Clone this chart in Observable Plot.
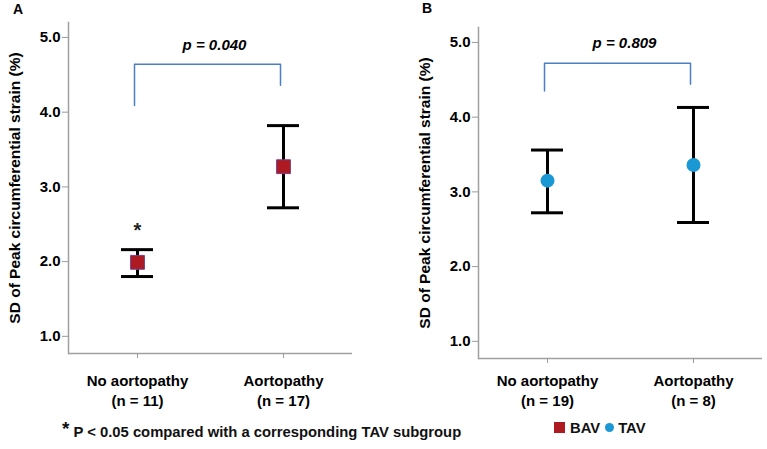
<!DOCTYPE html>
<html>
<head>
<meta charset="utf-8">
<script src="https://cdn.jsdelivr.net/npm/d3@7"></script>
<script src="https://cdn.jsdelivr.net/npm/@observablehq/plot@0.6"></script>
<style>
  html, body { margin: 0; padding: 0; background: #fff; }
  #root { position: relative; width: 767px; height: 449px; overflow: hidden; background: #fff;
          font-family: "Liberation Sans", Arial, sans-serif; color: #000; }
  .panel { position: absolute; top: 0; }
  .letter { position: absolute; font-weight: bold; font-size: 14px; }
  .note { position: absolute; font-size: 14.8px; font-weight: bold; white-space: nowrap; color: #111; }
</style>
</head>
<body>
<div id="root">
  <div id="panelA" class="panel" style="left:0px;"></div>
  <div id="panelB" class="panel" style="left:380px;"></div>
  <div class="letter" style="left:13px; top:1px;">A</div>
  <div class="letter" style="left:422px; top:0px;">B</div>
  <div class="note" style="left:62px; top:420px;"><span style="font-size:19px; position:relative; top:-2px;">*</span> P &lt; 0.05 compared with a corresponding TAV subgroup</div>
  <div id="legend" class="note" style="left:553px; top:420px;"></div>
</div>
<script>
// ---- data ----
const groups = ["No aortopathy", "Aortopathy"];
const yTicks = [1, 2, 3, 4, 5];
const yTitle = "SD of Peak circumferential strain (%)";

const bavN = [11, 17];
const bavMean = [1.99, 3.27];
const bavLow = [1.80, 2.72];
const bavHigh = [2.16, 3.82];

const tavN = [19, 8];
const tavMean = [3.15, 3.36];
const tavLow = [2.72, 2.59];
const tavHigh = [3.56, 4.13];

const bavBracket = [4.09, 4.64, 4.64, 4.36];
const tavBracket = [4.35, 4.72, 4.72, 4.44];
const bavP = "p = 0.040", bavPy = 4.90;
const tavP = "p = 0.809", tavPy = 4.99;
const starLabel = "*", starY = 2.41;

const legendNames = ["BAV", "TAV"];
const bavColor = "#ad1a22";
const tavColor = "#1a98d4";

function panel({n, mean, low, high, bracket, pText, pY, symbol, r, color, stroke,
                width, marginLeft, marginRight, marginTop, marginBottom, labelDy, star}) {
  const idx = d3.range(groups.length);
  const bracketPts = [0, 0, 1, 1].map((g, k) => ({g: groups[g], y: bracket[k]}));
  const marks = [
    Plot.axisY({ticks: yTicks, tickFormat: d => d.toFixed(1), tickSize: 6, tickPadding: 2,
                stroke: "#9a9a9a", fill: "#000", fontSize: 15, fontWeight: "bold", label: null}),
    Plot.text([yTitle], {frameAnchor: "left", textAnchor: "middle", rotate: -90, dx: -53, text: d => d,
                         fontSize: 15.5, fontWeight: "bold", fill: "#000"}),
    Plot.frame({anchor: "left", stroke: "#a0a0a0", strokeWidth: 1.5}),
    Plot.ruleY([0.77], {stroke: "#a0a0a0", strokeWidth: 1.5}),
    Plot.axisX({tickSize: 5, tickFormat: () => "", stroke: "#9a9a9a", label: null}),
    Plot.text(idx, {x: i => groups[i], text: i => `${groups[i]}\n(n = ${n[i]})`,
                    frameAnchor: "bottom", lineAnchor: "top", dy: labelDy, lineHeight: 1.35,
                    fontSize: 15, fontWeight: "bold", fill: "#000"}),
    Plot.line(bracketPts, {x: "g", y: "y", stroke: "#4a7fc3", strokeWidth: 1.5, dx: -3, curve: "linear"}),
    Plot.text([pText], {y: pY, text: d => d, dx: 4, fontSize: 15, fontWeight: "bold",
                        fontStyle: "italic", fill: "#000"}),
    Plot.ruleX(idx, {x: i => groups[i], y1: i => low[i], y2: i => high[i], stroke: "#000", strokeWidth: 3}),
    Plot.tickY(idx, {x: i => groups[i], y: i => low[i], stroke: "#000", strokeWidth: 3}),
    Plot.tickY(idx, {x: i => groups[i], y: i => high[i], stroke: "#000", strokeWidth: 3}),
    Plot.dot(idx, {x: i => groups[i], y: i => mean[i], symbol, r, fill: color,
                   stroke: stroke, strokeWidth: stroke ? 1 : 0})
  ];
  if (star) marks.push(Plot.text([star], {x: () => groups[0], y: starY, text: d => d,
                                          fontSize: 20, fontWeight: "bold", fill: "#222"}));
  return Plot.plot({
    width, height: 410, marginLeft, marginRight, marginTop, marginBottom,
    style: {fontFamily: '"Liberation Sans", Arial, sans-serif', color: "#000", background: "transparent", overflow: "visible"},
    x: {type: "band", domain: groups, paddingInner: 0.782, paddingOuter: 0.357, axis: null},
    y: {domain: [0.77, 5.2], axis: null},
    marks
  });
}

document.getElementById("panelA").appendChild(panel({
  n: bavN, mean: bavMean, low: bavLow, high: bavHigh, bracket: bavBracket,
  pText: bavP, pY: bavPy, symbol: "square", r: 7.8, color: bavColor, stroke: "#7a3f8a",
  width: 380, marginLeft: 68, marginRight: 28, marginTop: 22, marginBottom: 57, labelDy: 18,
  star: starLabel
}));
document.getElementById("panelB").appendChild(panel({
  n: tavN, mean: tavMean, low: tavLow, high: tavHigh, bracket: tavBracket,
  pText: tavP, pY: tavPy, symbol: "circle", r: 7, color: tavColor, stroke: null,
  width: 387, marginLeft: 98, marginRight: 5, marginTop: 27, marginBottom: 52, labelDy: 13
}));

// legend
const legendSymbols = ["square", "circle"];
const legendColors = [bavColor, tavColor];
const leg = document.getElementById("legend");
legendNames.forEach((name, i) => {
  const span = document.createElement("span");
  span.style.marginRight = "4px";
  const sym = legendSymbols[i] === "square"
    ? `<svg width="13" height="13" style="vertical-align:-1px;margin-right:4px"><rect x="1" y="1" width="11" height="11" fill="${legendColors[i]}"/></svg>`
    : `<svg width="11" height="11" style="vertical-align:0px;margin-right:3px"><circle cx="5.5" cy="5.5" r="4.5" fill="${legendColors[i]}"/></svg>`;
  span.innerHTML = sym + name;
  leg.appendChild(span);
});
</script>
</body>
</html>
